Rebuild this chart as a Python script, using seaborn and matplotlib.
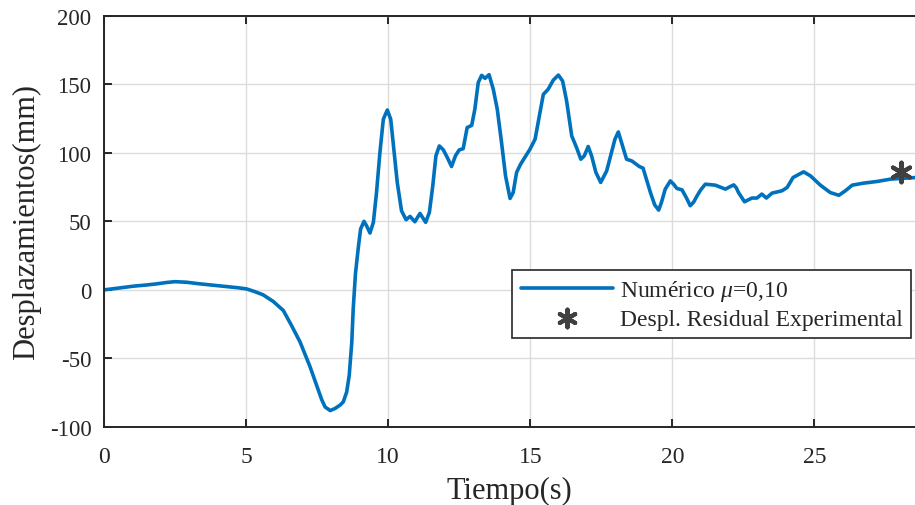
import numpy as np
import pandas as pd
import matplotlib
matplotlib.use("Agg")
import matplotlib.pyplot as plt
import seaborn as sns

# ---- data ----
tiempo = [0.0, 0.5, 1.03, 1.5, 1.85, 2.2, 2.5, 2.9, 3.38, 3.9, 4.32, 4.7, 5.02, 5.3, 5.6, 5.96, 6.31,
          6.6, 6.9, 7.25, 7.48, 7.66, 7.78, 7.96, 8.13, 8.31, 8.42, 8.54, 8.63, 8.72, 8.77, 8.85,
          8.95, 9.03, 9.15, 9.24, 9.36, 9.48, 9.59, 9.71, 9.83, 9.97, 10.09, 10.2, 10.32, 10.47,
          10.63, 10.77, 10.94, 11.12, 11.32, 11.45, 11.57, 11.68, 11.8, 11.94, 12.08, 12.23,
          12.37, 12.5, 12.64, 12.78, 12.94, 13.05, 13.17, 13.29, 13.41, 13.55, 13.7, 13.84,
          13.99, 14.13, 14.29, 14.4, 14.52, 14.66, 14.81, 14.99, 15.17, 15.32, 15.46, 15.63,
          15.81, 15.99, 16.14, 16.28, 16.46, 16.63, 16.78, 16.9, 17.04, 17.16, 17.31, 17.48,
          17.69, 17.86, 17.98, 18.1, 18.25, 18.39, 18.57, 18.84, 18.97, 19.1, 19.23, 19.38,
          19.52, 19.62, 19.75, 19.93, 20.05, 20.16, 20.34, 20.5, 20.63, 20.75, 20.87, 21.0,
          21.16, 21.51, 21.87, 22.05, 22.16, 22.25, 22.33, 22.54, 22.8, 22.98, 23.15, 23.31,
          23.51, 23.86, 24.04, 24.25, 24.62, 24.86, 25.21, 25.56, 25.86, 26.09, 26.33, 26.74,
          27.21, 27.68, 28.6]
desplazamiento = [0.0, 1.3, 2.7, 3.6, 4.4, 5.4, 6.0, 5.6, 4.4, 3.3, 2.4, 1.6, 0.7, -1.2, -3.6, -8.5,
                  -15, -26, -38, -56, -69.6, -80, -85.4, -88, -86.5, -84, -81.7, -74.5, -62.3,
                  -38, -13.8, 12, 31, 44.4, 50, 46.8, 41.5, 49.3, 71, 100.2, 124.5, 131.2, 124.5,
                  102.6, 78.4, 57.7, 51.2, 53.6, 49.7, 55.8, 49.3, 56.5, 75.9, 97.7, 105, 102.2,
                  96.6, 90, 97.9, 102.1, 103, 118.4, 120, 131.7, 151.2, 156.5, 154.3, 157, 146.3,
                  131.7, 107.5, 83.2, 66.7, 71.1, 85.7, 91.7, 96.6, 102.6, 109.9, 126.9, 142.6,
                  146.3, 153, 156.7, 152.3, 137.8, 112.3, 103.8, 95.3, 97.7, 104.6, 97.7, 85.7,
                  78.4, 86.8, 100.2, 109.9, 115.2, 105, 95.3, 94.1, 90, 88.8, 80, 71, 62,
                  58.2, 64, 73.5, 79.5, 77, 74, 73, 67, 61.4, 64, 68.6, 73,
                  77.1, 76.4, 73.5, 75.5, 76.6, 74.5, 71, 64.3, 67, 67, 69.9, 67,
                  70.6, 72.3, 74.7, 82, 86.1, 83.2, 76.4, 71, 69, 72.3, 76.4, 77.9,
                  79.1, 80.8, 82.0]
t_exp = [28.05]
d_exp = [86.0]

x_ticks = [0, 5, 10, 15, 20, 25]
y_ticks = [-100, -50, 0, 50, 100, 150, 200]

label_num = r"Numérico $\mu$=0,10"
label_exp = "Despl. Residual Experimental"

sns.set_style("ticks")
plt.rcParams["font.family"] = ["Liberation Serif", "DejaVu Serif"]
plt.rcParams["mathtext.fontset"] = "custom"
plt.rcParams["mathtext.it"] = "Liberation Serif:italic"
plt.rcParams["mathtext.rm"] = "Liberation Serif"
plt.rcParams["axes.unicode_minus"] = False

fig = plt.figure(figsize=(9.15, 5.06), dpi=100)
ax = fig.add_axes([104 / 915, 78 / 506, 811 / 915, (428 - 16.7) / 506])

df = pd.DataFrame({"t": tiempo, "d": desplazamiento})
sns.lineplot(data=df, x="t", y="d", sort=False, estimator=None, ax=ax,
             color="#0072BD", linewidth=2.6, label=label_num)
sns.scatterplot(x=t_exp, y=d_exp, ax=ax, marker=(6, 2, 0), s=200,
                color="#404040", edgecolor="#404040", linewidth=3.0, label=label_exp, zorder=5)

ax.set_xlim(0, 28.54)
ax.set_ylim(-100, 200)
ax.set_xticks(x_ticks)
ax.set_yticks(y_ticks)
ax.set_xticklabels([str(v) for v in x_ticks])
ax.set_yticklabels([str(v) for v in y_ticks])
ax.grid(True, color="#dcdcdc", linewidth=1.0)
ax.set_axisbelow(True)

for side in ["left", "bottom", "top"]:
    ax.spines[side].set_color("#262626")
    ax.spines[side].set_linewidth(1.4)
ax.spines["right"].set_visible(False)
ax.tick_params(direction="in", length=6, width=1.4, color="#262626",
               labelcolor="#262626", top=True, right=False)
ax.tick_params(axis="y", pad=9, labelsize=16.5)
ax.tick_params(axis="x", pad=14, labelsize=17)

ax.set_xlabel("Tiempo(s)", fontsize=22, color="#262626", labelpad=6)
ax.set_ylabel("Desplazamientos(mm)", fontsize=22, color="#262626", labelpad=6)

leg = ax.legend(loc="upper right", bbox_to_anchor=(911 / 915, 1 - 271 / 506),
                bbox_transform=fig.transFigure, borderaxespad=0, fontsize=17,
                frameon=True, fancybox=False, framealpha=1, edgecolor="#262626",
                handlelength=3.9, handletextpad=0.3, labelspacing=0.2,
                borderpad=0.35, markerscale=0.9)
leg.get_frame().set_linewidth(1.2)
for txt in leg.get_texts():
    txt.set_color("#262626")

fig.savefig("out.png", dpi=100)
